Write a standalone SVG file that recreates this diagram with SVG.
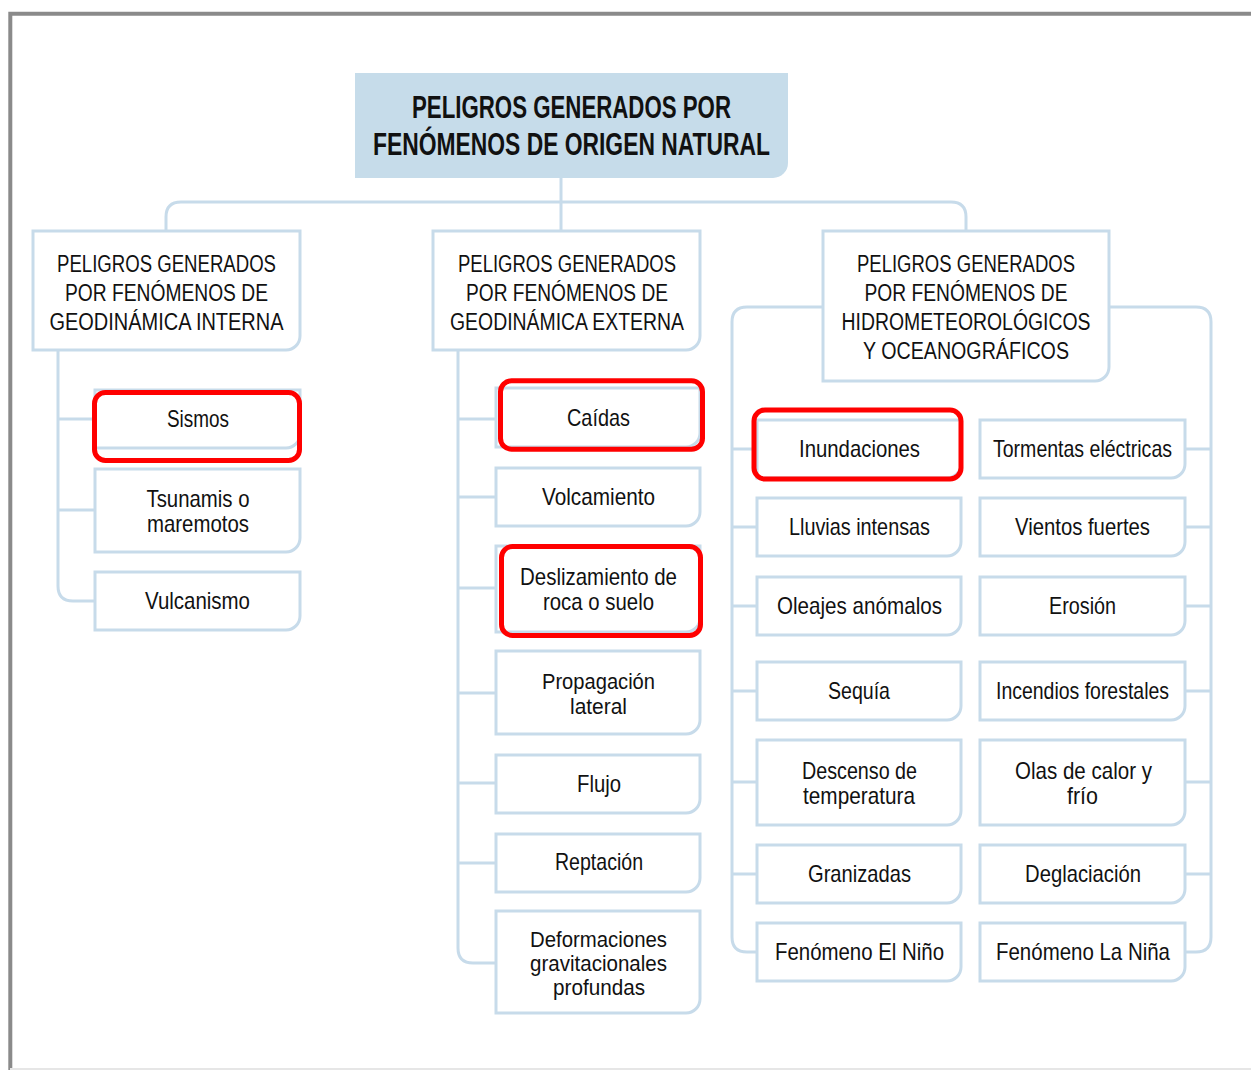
<svg xmlns="http://www.w3.org/2000/svg" width="1251" height="1070" viewBox="0 0 1251 1070">
  <style>
    .box { fill: #ffffff; stroke: #c7dbea; stroke-width: 3; }
    .head { fill: #c6dcea; stroke: none; }
    .wire { fill: none; stroke: #c7dbea; stroke-width: 3; }
    .mark { fill: none; stroke: #ff0000; stroke-width: 5; }
    text { font-family: "Liberation Sans", Arial, sans-serif; fill: #111111; text-anchor: middle; }
    .t0 { font-size: 31px; font-weight: bold; }
    .t1 { font-size: 23px; }
    .t2 { font-size: 24px; }
    .t3 { font-size: 22px; }
  </style>

  <!-- page frame -->
  <rect x="0" y="0" width="1251" height="1070" fill="#ffffff"/>
  <path d="M10.3,1070 V13.7 H1251" fill="none" stroke="#8a8a8a" stroke-width="4"/>
  <path d="M10,1069 H1251" fill="none" stroke="#e6e6e6" stroke-width="2"/>

  <!-- connectors -->
  <g id="connectors">
    <path class="wire" d="M561,178 V231"/>
    <path class="wire" d="M166,231 V217 Q166,202 181,202 H951 Q966,202 966,217 V231"/>
    <!-- internal dynamics branch -->
    <path class="wire" d="M58,350 V586 Q58,601 73,601 H95"/>
    <path class="wire" d="M58,419 H95 M58,510 H95"/>
    <!-- external dynamics branch -->
    <path class="wire" d="M458,350 V948 Q458,963 473,963 H496"/>
    <path class="wire" d="M458,419 H496 M458,497 H496 M458,588 H496 M458,693 H496 M458,783 H496 M458,863 H496"/>
    <!-- hydrometeorological branch -->
    <path class="wire" d="M823,307 H747 Q732,307 732,322 V937 Q732,952 747,952 H757"/>
    <path class="wire" d="M732,449 H757 M732,527 H757 M732,606 H757 M732,691 H757 M732,782 H757 M732,874 H757"/>
    <path class="wire" d="M1109,307 H1196 Q1211,307 1211,322 V937 Q1211,952 1196,952 H1185"/>
    <path class="wire" d="M1185,449 H1211 M1185,527 H1211 M1185,606 H1211 M1185,691 H1211 M1185,782 H1211 M1185,874 H1211"/>
  </g>

  <!-- root -->
  <g id="root">
    <path class="head" d="M355,73 H788 V163 A15,15 0 0 1 773,178 H355 Z"/>
    <text class="t0" x="571.5" y="118" textLength="319" lengthAdjust="spacingAndGlyphs">PELIGROS GENERADOS POR</text>
    <text class="t0" x="571.5" y="155" textLength="397" lengthAdjust="spacingAndGlyphs">FENÓMENOS DE ORIGEN NATURAL</text>
  </g>

  <!-- second level -->
  <g id="interna">
    <path class="box" d="M33,231 H300 V336 A14,14 0 0 1 286,350 H33 Z"/>
    <text class="t1" x="166.5" y="272" textLength="219" lengthAdjust="spacingAndGlyphs">PELIGROS GENERADOS</text>
    <text class="t1" x="166.5" y="301" textLength="203" lengthAdjust="spacingAndGlyphs">POR FENÓMENOS DE</text>
    <text class="t1" x="166.5" y="330" textLength="234" lengthAdjust="spacingAndGlyphs">GEODINÁMICA INTERNA</text>
  </g>
  <g id="externa">
    <path class="box" d="M433,231 H700 V336 A14,14 0 0 1 686,350 H433 Z"/>
    <text class="t1" x="567" y="272" textLength="218" lengthAdjust="spacingAndGlyphs">PELIGROS GENERADOS</text>
    <text class="t1" x="567" y="301" textLength="202" lengthAdjust="spacingAndGlyphs">POR FENÓMENOS DE</text>
    <text class="t1" x="567" y="330" textLength="234" lengthAdjust="spacingAndGlyphs">GEODINÁMICA EXTERNA</text>
  </g>
  <g id="hidro">
    <path class="box" d="M823,231 H1109 V367 A14,14 0 0 1 1095,381 H823 Z"/>
    <text class="t1" x="966" y="272" textLength="218" lengthAdjust="spacingAndGlyphs">PELIGROS GENERADOS</text>
    <text class="t1" x="966" y="301" textLength="203" lengthAdjust="spacingAndGlyphs">POR FENÓMENOS DE</text>
    <text class="t1" x="966" y="330" textLength="249" lengthAdjust="spacingAndGlyphs">HIDROMETEOROLÓGICOS</text>
    <text class="t1" x="966" y="359" textLength="206" lengthAdjust="spacingAndGlyphs">Y OCEANOGRÁFICOS</text>
  </g>

  <!-- internal dynamics -->
  <g id="sismos">
    <path class="box" d="M95,390 H300 V434 A14,14 0 0 1 286,448 H95 Z"/>
    <text class="t2" x="198" y="427" textLength="62" lengthAdjust="spacingAndGlyphs">Sismos</text>
  </g>
  <g id="tsunamis">
    <path class="box" d="M95,469 H300 V538 A14,14 0 0 1 286,552 H95 Z"/>
    <text class="t2" x="198" y="507" textLength="103" lengthAdjust="spacingAndGlyphs">Tsunamis o</text>
    <text class="t2" x="198" y="532" textLength="102" lengthAdjust="spacingAndGlyphs">maremotos</text>
  </g>
  <g id="vulcanismo">
    <path class="box" d="M95,572 H300 V616 A14,14 0 0 1 286,630 H95 Z"/>
    <text class="t2" x="197.5" y="609" textLength="105" lengthAdjust="spacingAndGlyphs">Vulcanismo</text>
  </g>

  <!-- external dynamics -->
  <g id="caidas">
    <path class="box" d="M496,388 H700 V433 A14,14 0 0 1 686,447 H496 Z"/>
    <text class="t2" x="598.5" y="426" textLength="63" lengthAdjust="spacingAndGlyphs">Caídas</text>
  </g>
  <g id="volcamiento">
    <path class="box" d="M496,468 H700 V512 A14,14 0 0 1 686,526 H496 Z"/>
    <text class="t2" x="598.5" y="505" textLength="113" lengthAdjust="spacingAndGlyphs">Volcamiento</text>
  </g>
  <g id="deslizamiento">
    <path class="box" d="M496,546 H700 V618 A14,14 0 0 1 686,632 H496 Z"/>
    <text class="t2" x="598.5" y="585" textLength="157" lengthAdjust="spacingAndGlyphs">Deslizamiento de</text>
    <text class="t2" x="598.5" y="610" textLength="111" lengthAdjust="spacingAndGlyphs">roca o suelo</text>
  </g>
  <g id="propagacion">
    <path class="box" d="M496,651 H700 V720 A14,14 0 0 1 686,734 H496 Z"/>
    <text class="t3" x="598.5" y="689" textLength="113" lengthAdjust="spacingAndGlyphs">Propagación</text>
    <text class="t3" x="598.5" y="714" textLength="57" lengthAdjust="spacingAndGlyphs">lateral</text>
  </g>
  <g id="flujo">
    <path class="box" d="M496,755 H700 V799 A14,14 0 0 1 686,813 H496 Z"/>
    <text class="t2" x="599" y="792" textLength="44" lengthAdjust="spacingAndGlyphs">Flujo</text>
  </g>
  <g id="reptacion">
    <path class="box" d="M496,834 H700 V878 A14,14 0 0 1 686,892 H496 Z"/>
    <text class="t2" x="599" y="870" textLength="88" lengthAdjust="spacingAndGlyphs">Reptación</text>
  </g>
  <g id="deformaciones">
    <path class="box" d="M496,911 H700 V999 A14,14 0 0 1 686,1013 H496 Z"/>
    <text class="t3" x="598.5" y="947" textLength="137" lengthAdjust="spacingAndGlyphs">Deformaciones</text>
    <text class="t3" x="598.5" y="971" textLength="137" lengthAdjust="spacingAndGlyphs">gravitacionales</text>
    <text class="t3" x="599" y="995" textLength="92" lengthAdjust="spacingAndGlyphs">profundas</text>
  </g>

  <!-- hydrometeorological, left column -->
  <g id="inundaciones">
    <path class="box" d="M757,420 H961 V464 A14,14 0 0 1 947,478 H757 Z"/>
    <text class="t2" x="859.5" y="457" textLength="121" lengthAdjust="spacingAndGlyphs">Inundaciones</text>
  </g>
  <g id="lluvias">
    <path class="box" d="M757,498 H961 V542 A14,14 0 0 1 947,556 H757 Z"/>
    <text class="t2" x="859.5" y="535" textLength="141" lengthAdjust="spacingAndGlyphs">Lluvias intensas</text>
  </g>
  <g id="oleajes">
    <path class="box" d="M757,577 H961 V621 A14,14 0 0 1 947,635 H757 Z"/>
    <text class="t2" x="859.5" y="614" textLength="165" lengthAdjust="spacingAndGlyphs">Oleajes anómalos</text>
  </g>
  <g id="sequia">
    <path class="box" d="M757,662 H961 V706 A14,14 0 0 1 947,720 H757 Z"/>
    <text class="t2" x="859" y="699" textLength="62" lengthAdjust="spacingAndGlyphs">Sequía</text>
  </g>
  <g id="descenso">
    <path class="box" d="M757,740 H961 V811 A14,14 0 0 1 947,825 H757 Z"/>
    <text class="t2" x="859.5" y="779" textLength="115" lengthAdjust="spacingAndGlyphs">Descenso de</text>
    <text class="t2" x="859" y="804" textLength="112" lengthAdjust="spacingAndGlyphs">temperatura</text>
  </g>
  <g id="granizadas">
    <path class="box" d="M757,845 H961 V889 A14,14 0 0 1 947,903 H757 Z"/>
    <text class="t2" x="859.5" y="882" textLength="103" lengthAdjust="spacingAndGlyphs">Granizadas</text>
  </g>
  <g id="nino">
    <path class="box" d="M757,923 H961 V967 A14,14 0 0 1 947,981 H757 Z"/>
    <text class="t2" x="859.5" y="960" textLength="169" lengthAdjust="spacingAndGlyphs">Fenómeno El Niño</text>
  </g>

  <!-- hydrometeorological, right column -->
  <g id="tormentas">
    <path class="box" d="M980,420 H1185 V464 A14,14 0 0 1 1171,478 H980 Z"/>
    <text class="t2" x="1082.5" y="457" textLength="179" lengthAdjust="spacingAndGlyphs">Tormentas eléctricas</text>
  </g>
  <g id="vientos">
    <path class="box" d="M980,498 H1185 V542 A14,14 0 0 1 1171,556 H980 Z"/>
    <text class="t2" x="1082.5" y="535" textLength="135" lengthAdjust="spacingAndGlyphs">Vientos fuertes</text>
  </g>
  <g id="erosion">
    <path class="box" d="M980,577 H1185 V621 A14,14 0 0 1 1171,635 H980 Z"/>
    <text class="t2" x="1082.5" y="614" textLength="67" lengthAdjust="spacingAndGlyphs">Erosión</text>
  </g>
  <g id="incendios">
    <path class="box" d="M980,662 H1185 V706 A14,14 0 0 1 1171,720 H980 Z"/>
    <text class="t2" x="1082.5" y="699" textLength="173" lengthAdjust="spacingAndGlyphs">Incendios forestales</text>
  </g>
  <g id="olas">
    <path class="box" d="M980,740 H1185 V811 A14,14 0 0 1 1171,825 H980 Z"/>
    <text class="t2" x="1083.5" y="779" textLength="137" lengthAdjust="spacingAndGlyphs">Olas de calor y</text>
    <text class="t2" x="1082.5" y="804" textLength="31" lengthAdjust="spacingAndGlyphs">frío</text>
  </g>
  <g id="deglaciacion">
    <path class="box" d="M980,845 H1185 V889 A14,14 0 0 1 1171,903 H980 Z"/>
    <text class="t2" x="1083" y="882" textLength="116" lengthAdjust="spacingAndGlyphs">Deglaciación</text>
  </g>
  <g id="nina">
    <path class="box" d="M980,923 H1185 V967 A14,14 0 0 1 1171,981 H980 Z"/>
    <text class="t2" x="1083" y="960" textLength="174" lengthAdjust="spacingAndGlyphs">Fenómeno La Niña</text>
  </g>

  <!-- red highlight frames -->
  <g id="highlights">
    <rect class="mark" x="94.5" y="392.5" width="205" height="68" rx="11"/>
    <rect class="mark" x="500.5" y="380.8" width="202" height="68.5" rx="11"/>
    <rect class="mark" x="501.5" y="546.5" width="199" height="89" rx="11"/>
    <rect class="mark" x="754" y="410" width="207" height="69" rx="11"/>
  </g>
</svg>
